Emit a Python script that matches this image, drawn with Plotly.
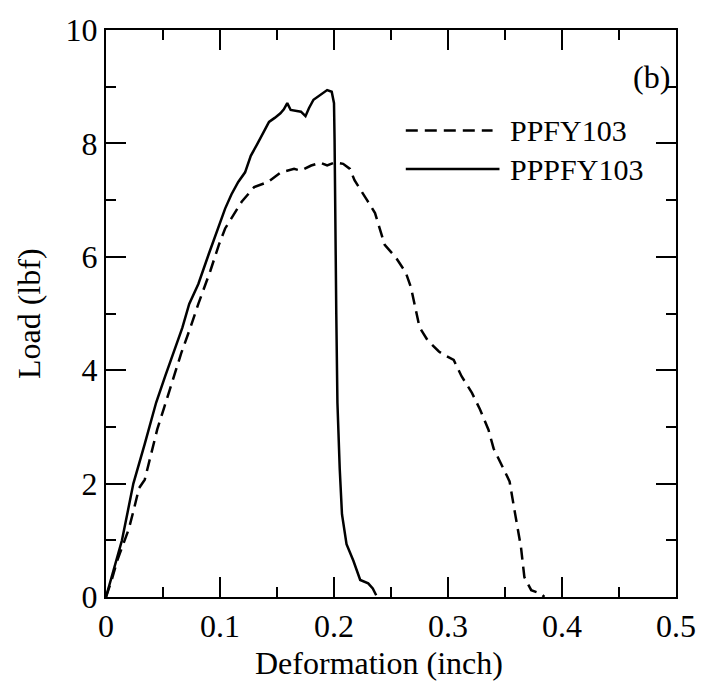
import plotly.graph_objects as go

# PPPFY103 (solid)
x_solid = [0, 0.005, 0.010, 0.014, 0.019, 0.024, 0.034, 0.044, 0.052, 0.060, 0.067, 0.073,
           0.081, 0.090, 0.097, 0.1045, 0.110, 0.116, 0.122, 0.127, 0.133, 0.139, 0.143, 0.148,
           0.153, 0.156, 0.159, 0.162, 0.166, 0.171, 0.175, 0.178, 0.182, 0.188, 0.194, 0.198,
           0.200, 0.2005, 0.201, 0.202, 0.203, 0.204, 0.205, 0.207, 0.211, 0.217, 0.223, 0.230,
           0.234, 0.237]
y_solid = [0, 0.35, 0.70, 1.0, 1.5, 2.0, 2.7, 3.43, 3.9, 4.35, 4.75, 5.17,
           5.52, 6.04, 6.45, 6.85, 7.1, 7.32, 7.49, 7.78, 8.0, 8.22, 8.38, 8.45,
           8.53, 8.60, 8.71, 8.59, 8.58, 8.56, 8.48, 8.62, 8.77, 8.85, 8.94, 8.91,
           8.71, 8.07, 6.5, 5.0, 3.43, 2.6, 2.27, 1.46, 0.93, 0.64, 0.30, 0.24,
           0.15, 0.03]

# PPFY103 (dashed)
x_dash = [0, 0.005, 0.010, 0.015, 0.020, 0.024, 0.029, 0.034, 0.040, 0.045, 0.051, 0.058,
          0.066, 0.074, 0.081, 0.0915, 0.099, 0.1045, 0.110, 0.119, 0.130, 0.142, 0.1535,
          0.165, 0.171, 0.180, 0.188, 0.194, 0.200, 0.2026, 0.208, 0.214, 0.218, 0.223,
          0.229, 0.236, 0.240, 0.2445, 0.2545, 0.263, 0.2675, 0.272, 0.275, 0.282, 0.292,
          0.2965, 0.305, 0.312, 0.321, 0.328, 0.3355, 0.340, 0.3455, 0.354, 0.3585, 0.364,
          0.367, 0.373, 0.3815, 0.3845]
y_dash = [0, 0.3, 0.65, 0.93, 1.2, 1.51, 1.92, 2.07, 2.56, 2.96, 3.34, 3.8,
          4.3, 4.75, 5.17, 5.75, 6.21, 6.50, 6.68, 6.97, 7.23, 7.32, 7.49,
          7.55, 7.52, 7.61, 7.66, 7.61, 7.66, 7.66, 7.64, 7.55, 7.35, 7.2,
          7.0, 6.77, 6.52, 6.21, 5.98, 5.72, 5.46, 5.05, 4.76, 4.53, 4.33,
          4.27, 4.18, 3.89, 3.60, 3.31, 2.95, 2.62, 2.38, 2.04, 1.51, 0.88,
          0.35, 0.12, 0.06, 0]

names = ["PPFY103", "PPPFY103"]
x_ticks = [0, 0.1, 0.2, 0.3, 0.4, 0.5]
x_ticklabels = ["0", "0.1", "0.2", "0.3", "0.4", "0.5"]
y_ticks = [0, 2, 4, 6, 8, 10]
y_ticklabels = ["0", "2", "4", "6", "8", "10"]

FONT = "Times New Roman, Liberation Serif, DejaVu Serif, serif"
FS = 32
fig = go.Figure()
fig.add_trace(go.Scatter(x=x_dash, y=y_dash, mode="lines", name=names[0],
                         line=dict(color="black", width=2.5, dash="12px,7px"),
                         showlegend=False))
fig.add_trace(go.Scatter(x=x_solid, y=y_solid, mode="lines", name=names[1],
                         line=dict(color="black", width=2.5),
                         showlegend=False))

L, R, T, B = 106, 24, 22, 92
W, H = 708, 689
pw, ph = W - L - R, H - T - B

def px(xp):
    return (xp - L) / pw

def py(yp):
    return (H - B - yp) / ph

axis_common = dict(showline=True, linecolor="black", linewidth=2, mirror="ticks",
                   ticks="inside", ticklen=20, tickwidth=2, tickcolor="black",
                   showgrid=False, zeroline=False,
                   tickfont=dict(family=FONT, size=FS, color="black"))
fig.update_xaxes(range=[0, 0.5], tickvals=x_ticks, ticktext=x_ticklabels,
                 minor=dict(ticks="inside", ticklen=10, tickwidth=2, dtick=0.05,
                            tickcolor="black", showgrid=False),
                 **axis_common)
fig.update_yaxes(range=[0, 10], tickvals=y_ticks, ticktext=y_ticklabels,
                 minor=dict(ticks="inside", ticklen=10, tickwidth=2, dtick=1,
                            tickcolor="black", showgrid=False),
                 **axis_common)

# legend drawn manually
fig.add_shape(type="line", xref="paper", yref="paper", x0=px(410), x1=px(498),
              y0=py(124), y1=py(124), line=dict(color="black", width=2.5, dash="12px,7px"))
fig.add_shape(type="line", xref="paper", yref="paper", x0=px(410), x1=px(505),
              y0=py(163), y1=py(163), line=dict(color="black", width=2.5))
ann = []
ann.append(dict(text=names[0], x=px(514), y=py(124), xanchor="left", yanchor="middle", size=30))
ann.append(dict(text=names[1], x=px(514), y=py(163), xanchor="left", yanchor="middle", size=30))
ann.append(dict(text="(b)", x=px(680), y=py(70), xanchor="right", yanchor="middle", size=FS))
ann.append(dict(text="Deformation (inch)", x=px(383), y=py(664), xanchor="center", yanchor="middle", size=FS))
ann.append(dict(text="Load (lbf)", x=px(28), y=py(310), xanchor="center", yanchor="middle", textangle=-90, size=FS))
for a in ann:
    s = a.pop("size")
    a.update(xref="paper", yref="paper", showarrow=False,
             font=dict(family=FONT, size=s, color="black"))
fig.update_layout(annotations=ann)

fig.update_layout(width=W, height=H, margin=dict(l=L, r=R, t=T, b=B),
                  plot_bgcolor="white", paper_bgcolor="white", showlegend=False)
fig.write_html("out.html")
